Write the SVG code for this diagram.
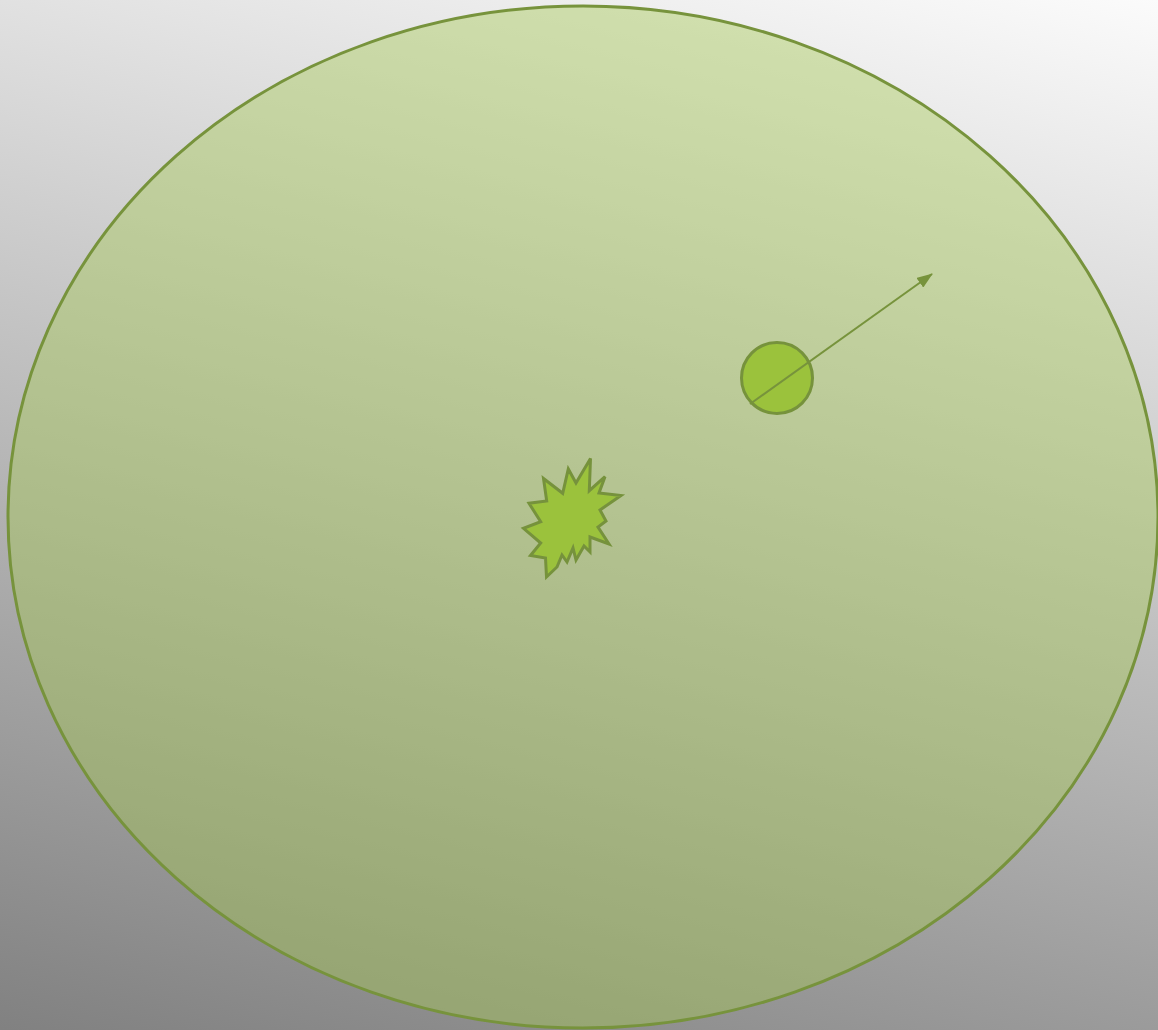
<svg xmlns="http://www.w3.org/2000/svg" width="1158" height="1030" viewBox="0 0 1158 1030">
<defs>
<linearGradient id="bg" gradientUnits="userSpaceOnUse" x1="1158" y1="0" x2="860" y2="1236">
<stop offset="0" stop-color="#fbfbfb"/>
<stop offset="1" stop-color="#818181"/>
</linearGradient>
<marker id="arr" viewBox="0 0 16 12" refX="15" refY="6" markerWidth="16" markerHeight="12" markerUnits="userSpaceOnUse" orient="auto">
<path d="M0,0 L16,6 L0,12 z" fill="#77933c"/>
</marker>
<style>
.outline{stroke:#77933c;stroke-width:3}
.shape{fill:#9bc23c;stroke:#76923c;stroke-width:3}
.conn{stroke:#77933c;stroke-width:2;fill:none}
</style>
</defs>
<rect x="0" y="0" width="1158" height="1030" fill="url(#bg)"/>
<g id="field">
<ellipse cx="583" cy="517" rx="575" ry="511" fill="#a5c852" fill-opacity="0.42" class="outline"/>
</g>
<g id="burst">
<polygon class="shape" stroke-width="2.5" stroke-linejoin="miter" points="590.5,458.5 589.3,490.7 605,476.7 599,493 621,495.5 600,510 606,521 598,527 609,544 590,537 590,552 584,546 576,560 573,548 567,562 562,555 557,567 546.5,577 545.5,558 530.5,555.5 540.7,543 523.5,528.3 540.7,521.7 529,503.3 546.7,501 543.5,478.5 562.7,493.3 568.3,469 576,483"/>
</g>
<g id="particle">
<circle class="shape" cx="777" cy="378" r="35.5"/>
</g>
<g id="connectors">
<line class="conn" x1="750" y1="404" x2="932" y2="274" marker-end="url(#arr)"/>
</g>
</svg>
